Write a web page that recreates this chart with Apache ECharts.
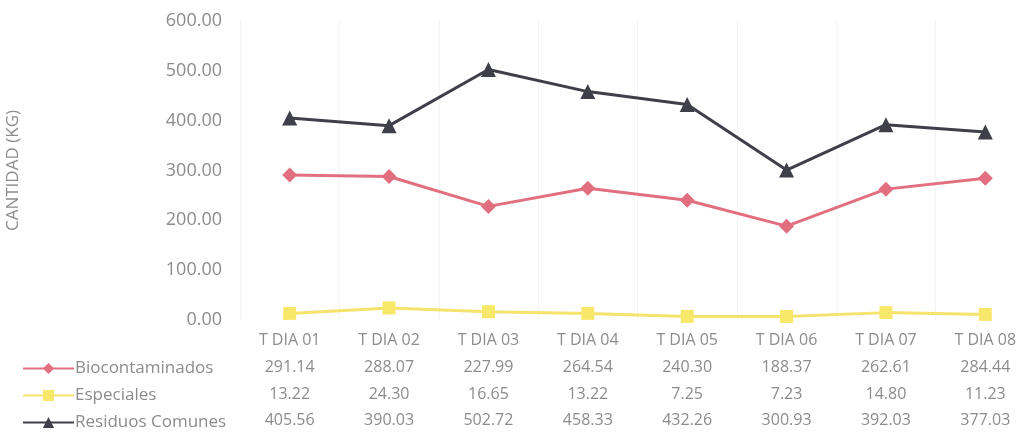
<!DOCTYPE html>
<html>
<head>
<meta charset="utf-8">
<script src="https://cdn.jsdelivr.net/npm/echarts@6/dist/echarts.min.js"></script>
<style>
  html, body { margin: 0; padding: 0; background: #fff; }
  #chart { width: 1022px; height: 446px; }
</style>
</head>
<body>
<div id="chart"></div>
<script>
const categories = ['T DIA 01', 'T DIA 02', 'T DIA 03', 'T DIA 04', 'T DIA 05', 'T DIA 06', 'T DIA 07', 'T DIA 08']
const biocontaminados = [291.14, 288.07, 227.99, 264.54, 240.30, 188.37, 262.61, 284.44]
const especiales = [13.22, 24.30, 16.65, 13.22, 7.25, 7.23, 14.80, 11.23]
const residuosComunes = [405.56, 390.03, 502.72, 458.33, 432.26, 300.93, 392.03, 377.03]
const seriesNames = ['Biocontaminados', 'Especiales', 'Residuos Comunes']

const textColor = '#8c8c8c'
const font = 'Open Sans'
const fontSize = 16
const rowGap = 26.5

// one extra category axis per table row, values shown as labels
const tableAxis = (values, row) => ({
    type: 'category',
    data: values.map(v => v.toFixed(2)),
    position: 'bottom',
    offset: row * rowGap,
    axisLine: { show: false },
    axisTick: { show: false },
    splitLine: { show: false },
    axisLabel: { color: textColor, fontFamily: font, fontSize: fontSize, margin: 13, interval: 0 }
})

const chart = echarts.init(document.getElementById('chart'))
chart.setOption({
    animation: false,
    grid: { left: 240, right: -13, top: 21, bottom: 126, outerBoundsMode: 'none' },
    legend: {
        data: seriesNames,
        orient: 'vertical',
        left: 17,
        top: 355,
        itemWidth: 51,
        itemHeight: 14,
        itemGap: 10,
        textStyle: { color: textColor, fontFamily: font, fontSize: 17, padding: [0, 0, 0, -4] }
    },
    xAxis: [
        {
            type: 'category',
            data: categories,
            axisLine: { show: false },
            axisTick: { show: false },
            splitLine: { show: true, lineStyle: { color: '#f4f4f4', width: 1 } },
            axisLabel: { color: textColor, fontFamily: font, fontSize: fontSize, margin: 12, interval: 0 }
        },
        tableAxis(biocontaminados, 1),
        tableAxis(especiales, 2),
        tableAxis(residuosComunes, 3)
    ],
    yAxis: {
        type: 'value',
        min: 0,
        max: 600,
        interval: 100,
        name: 'CANTIDAD (KG)',
        nameLocation: 'middle',
        nameRotate: 90,
        nameGap: 218,
        nameTextStyle: { color: textColor, fontFamily: font, fontSize: 17 },
        axisLine: { show: false },
        axisTick: { show: false },
        splitLine: { show: false },
        axisLabel: {
            color: textColor,
            fontFamily: font,
            fontSize: 18,
            margin: 18,
            formatter: v => v.toFixed(2)
        }
    },
    series: [
        {
            name: 'Biocontaminados',
            type: 'line',
            data: biocontaminados,
            symbol: 'diamond',
            symbolSize: 15,
            lineStyle: { color: '#e16f80', width: 3 },
            itemStyle: { color: '#e16f80' }
        },
        {
            name: 'Especiales',
            type: 'line',
            data: especiales,
            symbol: 'rect',
            symbolSize: 13,
            lineStyle: { color: '#f6e36e', width: 3 },
            itemStyle: { color: '#f8e86a' }
        },
        {
            name: 'Residuos Comunes',
            type: 'line',
            data: residuosComunes,
            symbol: 'triangle',
            symbolSize: 15,
            lineStyle: { color: '#3e3f48', width: 3 },
            itemStyle: { color: '#3e3f48' }
        }
    ]
})
</script>
</body>
</html>
